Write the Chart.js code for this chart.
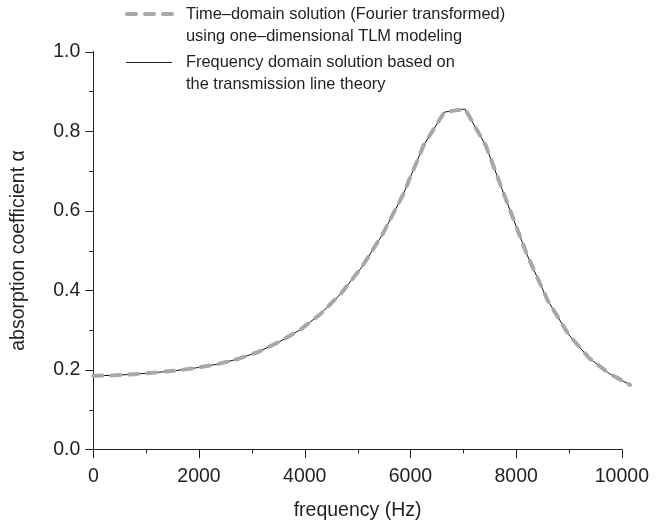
<!DOCTYPE html>
<html>
<head>
<meta charset="utf-8">
<script src="https://cdn.jsdelivr.net/npm/chart.js@4/dist/chart.umd.min.js"></script>
<style>
  html, body { margin: 0; padding: 0; background: #fff; }
  #wrap { width: 665px; height: 522px; }
</style>
</head>
<body>
<div id="wrap"><canvas id="absChart" width="665" height="522"></canvas></div>
<script>
// frequency samples (Hz)
const freqs = [0, 391, 781, 1172, 1563, 1953, 2344, 2734, 3125, 3516, 3906, 4297, 4688,
    5078, 5469, 5859, 6250, 6641, 7031, 7422, 7813, 8203, 8594, 8984, 9375, 9766, 10156];
// time-domain (TLM, Fourier transformed)
const tlmValues = [0.185, 0.186, 0.189, 0.193, 0.198, 0.205, 0.214, 0.227, 0.245, 0.270, 0.300, 0.340, 0.392,
    0.458, 0.540, 0.640, 0.765, 0.848, 0.856, 0.765, 0.626, 0.490, 0.375, 0.290, 0.230, 0.190, 0.162];
// frequency domain (transmission line theory)
const tlValues = [0.185, 0.186, 0.189, 0.193, 0.198, 0.205, 0.214, 0.227, 0.245, 0.270, 0.300, 0.340, 0.392,
    0.458, 0.540, 0.640, 0.765, 0.848, 0.856, 0.765, 0.626, 0.490, 0.375, 0.290, 0.230, 0.190, 0.162];

const legendLines = [
    ['Time\u2013domain solution (Fourier transformed)', 'using one\u2013dimensional TLM modeling'],
    ['Frequency domain solution based on', 'the transmission line theory']
];

const ink = '#231f20';
const dashGray = '#a8a8a8';
const family = '"Liberation Sans", Arial, sans-serif';
const axisFont = { family: family, size: 19.5 };

const toPoints = (vals) => vals.map((v, i) => ({ x: freqs[i], y: v }));

// ticks drawn outside the axes, long on labelled ticks, short on the others
const tickMarks = {
    id: 'tickMarks',
    afterDraw(chart) {
        const c = chart.ctx;
        const xs = chart.scales.x, ys = chart.scales.y;
        c.save();
        c.strokeStyle = ink;
        c.lineWidth = 1;
        xs.ticks.forEach(t => {
            const px = Math.round(xs.getPixelForValue(t.value)) + 0.5;
            const len = t.value % 2000 === 0 ? 9 : 4;
            c.beginPath();
            c.moveTo(px, xs.top);
            c.lineTo(px, xs.top + len);
            c.stroke();
        });
        ys.ticks.forEach(t => {
            const py = Math.round(ys.getPixelForValue(t.value)) + 0.5;
            const len = Math.round(t.value * 10) % 2 === 0 ? 8 : 4;
            c.beginPath();
            c.moveTo(ys.right, py);
            c.lineTo(ys.right - len, py);
            c.stroke();
        });
        c.restore();
    }
};

const topLegend = {
    id: 'topLegend',
    afterDraw(chart) {
        const c = chart.ctx;
        c.save();
        c.font = '16.4px ' + family;
        c.fillStyle = ink;
        c.textBaseline = 'middle';
        const rows = [14, 36, 62, 84];
        c.fillText(legendLines[0][0], 186, rows[0]);
        c.fillText(legendLines[0][1], 186, rows[1]);
        c.fillText(legendLines[1][0], 186, rows[2]);
        c.fillText(legendLines[1][1], 186, rows[3]);

        c.strokeStyle = dashGray;
        c.lineWidth = 4;
        c.lineCap = 'round';
        c.setLineDash([9, 9]);
        c.beginPath();
        c.moveTo(127, rows[0]);
        c.lineTo(172, rows[0]);
        c.stroke();

        c.setLineDash([]);
        c.lineCap = 'butt';
        c.strokeStyle = ink;
        c.lineWidth = 1;
        c.beginPath();
        c.moveTo(126, rows[2] + 0.5);
        c.lineTo(172, rows[2] + 0.5);
        c.stroke();
        c.restore();
    }
};

const ctx = document.getElementById('absChart').getContext('2d');
new Chart(ctx, {
    type: 'line',
    data: {
        datasets: [{
            label: legendLines[0].join(' '),
            data: toPoints(tlmValues),
            borderColor: dashGray,
            borderWidth: 4,
            borderDash: [9, 9],
            borderCapStyle: 'round',
            pointRadius: 0,
            tension: 0,
            fill: false
        }, {
            label: legendLines[1].join(' '),
            data: toPoints(tlValues),
            borderColor: '#111',
            borderWidth: 1,
            pointRadius: 0,
            tension: 0,
            fill: false
        }]
    },
    options: {
        responsive: false,
        animation: false,
        clip: false,
        layout: { padding: { top: 51.7, right: 30, left: 0, bottom: 0 } },
        plugins: {
            legend: { display: false },
            tooltip: { enabled: false }
        },
        scales: {
            x: {
                type: 'linear',
                min: 0,
                max: 10000,
                grid: { display: false, drawTicks: false },
                border: { display: true, color: ink, width: 1 },
                ticks: {
                    stepSize: 1000,
                    color: ink,
                    font: axisFont,
                    padding: 16,
                    maxRotation: 0,
                    autoSkip: false,
                    callback: v => (v % 2000 === 0 ? String(v) : '')
                },
                title: { display: true, text: 'frequency (Hz)', color: ink, font: axisFont, padding: { top: 8, bottom: 0 } },
                afterFit: s => { s.height = 72.7; }
            },
            y: {
                min: 0,
                max: 1,
                grid: { display: false, drawTicks: false },
                border: { display: true, color: ink, width: 1 },
                ticks: {
                    stepSize: 0.1,
                    color: ink,
                    font: axisFont,
                    padding: 13,
                    autoSkip: false,
                    callback: v => (Math.round(v * 10) % 2 === 0 ? v.toFixed(1) : '')
                },
                title: { display: true, text: 'absorption coefficient \u03b1', color: ink, font: axisFont, padding: { top: 7, bottom: 0 } },
                afterFit: s => { s.width = 93.3; }
            }
        }
    },
    plugins: [tickMarks, topLegend]
});
</script>
</body>
</html>
